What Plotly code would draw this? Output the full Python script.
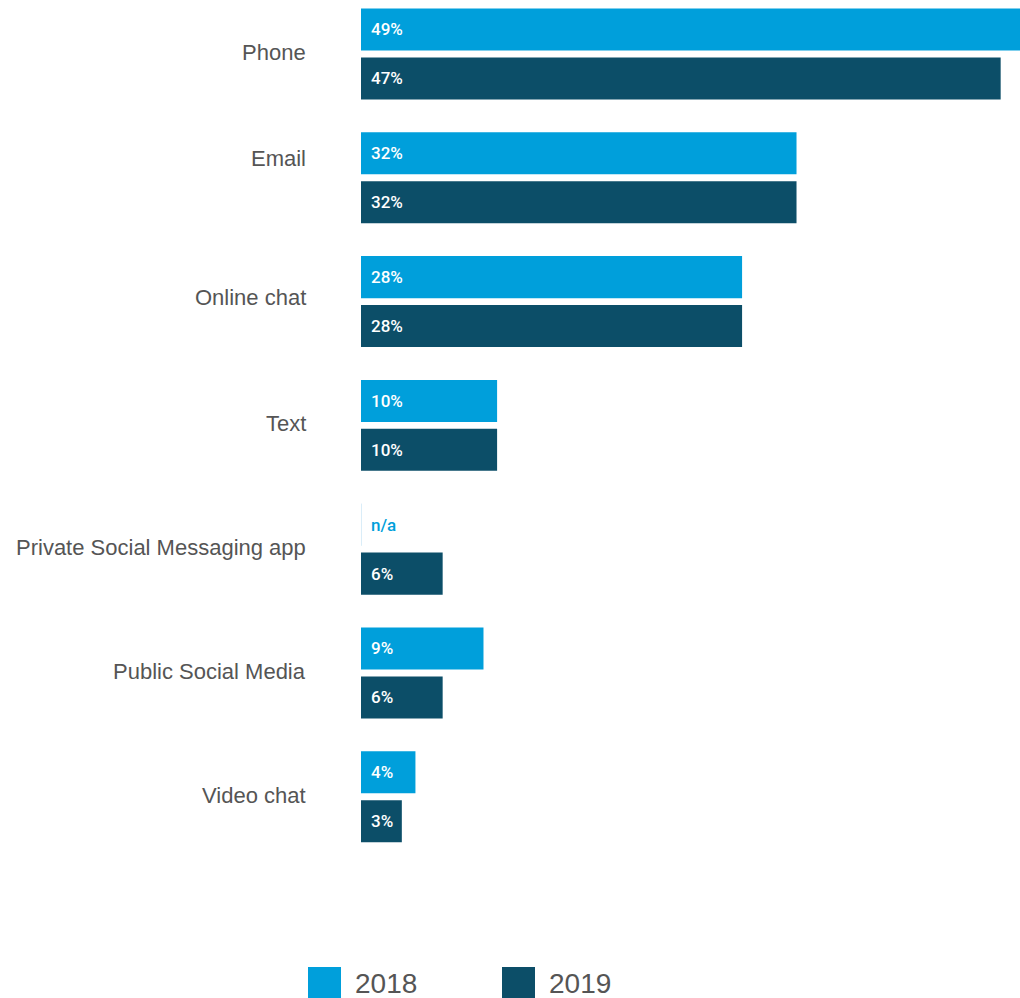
import plotly.graph_objects as go

# Contact channels and share of respondents per year
channels = ["Phone", "Email", "Online chat", "Text",
            "Private Social Messaging app", "Public Social Media", "Video chat"]
share_2018 = [49, 32, 28, 10, None, 9, 4]
share_2019 = [47, 32, 28, 10, 6, 6, 3]
years = ["2018", "2019"]

COL_2018 = "#009fdb"
COL_2019 = "#0c4e68"
TEXT_GREY = "#555555"

W, H = 1020, 998
M_L, M_R, M_T, M_B = 361, 0, 0, 98
PLOT_W = W - M_L - M_R
PLOT_H = H - M_T - M_B


def px_x(px):
    return (px - M_L) / PLOT_W


def px_y(py):
    return 1 - (py - M_T) / PLOT_H


fig = go.Figure()

vals18 = [v if v is not None else 0 for v in share_2018]
line_w = [1 if v is None else 0 for v in share_2018]
fig.add_trace(go.Bar(
    y=channels, x=vals18, orientation="h", name=years[0],
    marker=dict(color=COL_2018, line=dict(color="#cde8f5", width=line_w)),
    hoverinfo="skip",
))
fig.add_trace(go.Bar(
    y=channels, x=share_2019, orientation="h", name=years[1],
    marker=dict(color=COL_2019, line=dict(width=0)),
    hoverinfo="skip",
))

annotations = []

# Category labels, right-aligned to the left of the bars
label_shift = {"Email": 19, "Online chat": 4}
for cat in channels:
    annotations.append(dict(
        x=px_x(308), y=cat, xref="paper", yref="y", xanchor="right",
        yanchor="middle", yshift=label_shift.get(cat, 1.5), showarrow=False,
        text=cat, font=dict(family="Liberation Sans", size=22, color=TEXT_GREY),
    ))

# Value labels just inside the start of each bar
half_slot = 24.5
for cat, v18, v19 in zip(channels, share_2018, share_2019):
    for v, shift in ((v18, half_slot), (v19, -half_slot)):
        annotations.append(dict(
            x=0, y=cat, xref="x", yref="y", xanchor="left", yanchor="middle",
            xshift=8, yshift=shift, showarrow=False,
            text="n/a" if v is None else f"{v}%",
            font=dict(family="Roboto", size=17, weight=500,
                      color=COL_2018 if v is None else "white"),
        ))

# Legend drawn as large swatches with labels below the chart
shapes = []
for (x0, x1, tx), col, yr in zip([(308, 341, 353), (502, 535, 547)],
                                 [COL_2018, COL_2019], years):
    shapes.append(dict(type="rect", xref="paper", yref="paper",
                       x0=px_x(x0), x1=px_x(x1), y0=px_y(998), y1=px_y(967),
                       fillcolor=col, line=dict(width=0)))
    annotations.append(dict(x=px_x(tx), y=px_y(983), xref="paper", yref="paper",
                            xanchor="left", yanchor="middle", showarrow=False,
                            text=yr, font=dict(family="Liberation Sans", size=28,
                                               color=TEXT_GREY)))

fig.update_layout(
    width=W, height=H,
    margin=dict(l=M_L, r=M_R, t=M_T, b=M_B, pad=0),
    barmode="group", bargap=0.21, bargroupgap=0.14,
    plot_bgcolor="white", paper_bgcolor="white",
    showlegend=False,
    annotations=annotations, shapes=shapes,
    font=dict(family="Liberation Sans", color=TEXT_GREY),
)
fig.update_xaxes(range=[0, 48.42], visible=False, fixedrange=True)
fig.update_yaxes(
    type="category", categoryorder="array", categoryarray=channels,
    range=[6.834, -0.436], showgrid=False, zeroline=False, showline=False,
    ticks="", showticklabels=False, fixedrange=True,
)

fig.write_html("out.html")
